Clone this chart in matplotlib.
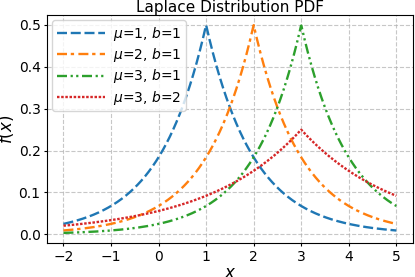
import numpy as np
import matplotlib
matplotlib.use("Agg")
import matplotlib.pyplot as plt

# Parameters shown in the legend
mus = [1, 2, 3, 3]
bs = [1, 1, 1, 2]
colors = ["#1f77b4", "#ff7f0e", "#2ca02c", "#d62728"]
x_range = (-2, 5)

plt.rcParams["lines.scale_dashes"] = False
styles = [
    (0, (7.2, 2.7)),
    (0, (7.2, 2.7, 2.4, 3.1)),
    (0, (7.2, 2.6, 1.6, 2.4, 1.6, 2.6)),
    (0, (1.8, 1.2)),
]

x = np.linspace(x_range[0], x_range[1], 1000)

fig = plt.figure(figsize=(4.15, 2.77), dpi=100)
ax = fig.add_axes([0.1128, 0.1217, 0.995 - 0.1128, 0.9466 - 0.1217])
for mu, b, c, ls in zip(mus, bs, colors, styles):
    y = np.exp(-np.abs(x - mu) / b) / (2 * b)
    ax.plot(x, y, color=c, linestyle=ls, linewidth=1.7,
            label=rf"$\mu$={mu}, $b$={b}")

ax.set_title("Laplace Distribution PDF", fontsize=11, pad=2)
ax.set_xlabel(r"$x$", fontsize=12, labelpad=0)
ax.set_ylabel(r"$f(x)$", fontsize=12)
ax.yaxis.set_label_coords(-0.084, 0.5)
ax.tick_params(labelsize=10, length=2.5, pad=2)
ax.set_xticks(range(-2, 6))
ax.grid(True, linestyle=(0, (3, 1.3)), alpha=0.7)
ax.legend(fontsize=10, loc="upper left", handlelength=3.5,
          handletextpad=0.6, borderpad=0.3, borderaxespad=0.4,
          labelspacing=0.25)
fig.savefig("out.png", dpi=100)
